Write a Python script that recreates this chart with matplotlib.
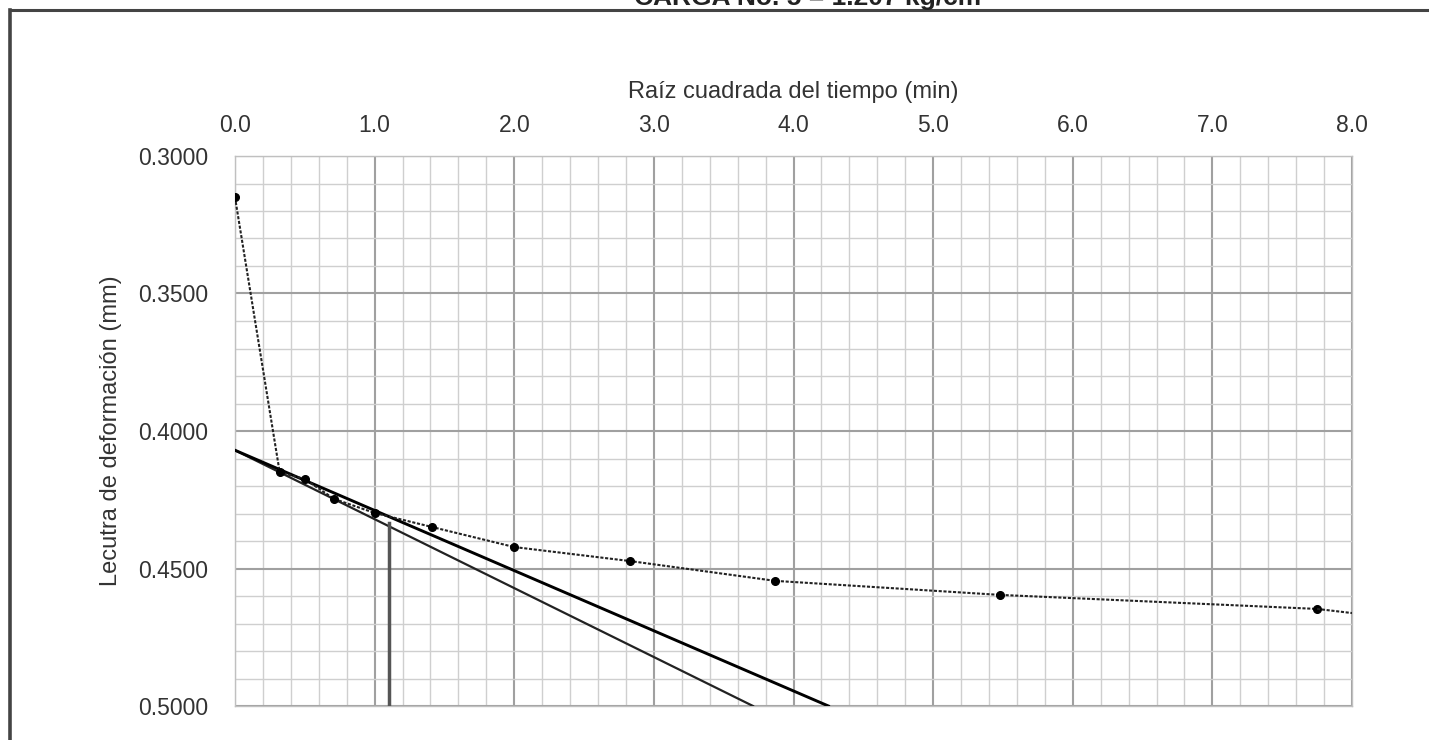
import matplotlib
matplotlib.use("Agg")
import matplotlib.pyplot as plt
from matplotlib.ticker import MultipleLocator, FormatStrFormatter
import matplotlib.lines as mlines

plt.rcParams['font.family'] = ['Liberation Sans', 'DejaVu Sans']

# Data: square root of time (min) vs deformation reading (mm)
sqrt_t = [0.0, 0.32, 0.50, 0.71, 1.00, 1.41, 2.00, 2.83, 3.87, 5.48, 7.75]
lectura = [0.3150, 0.4150, 0.4175, 0.4247, 0.4298, 0.4349, 0.4422, 0.4473, 0.4545, 0.4596, 0.4647]
# curve continues to the right edge of the chart
tail_x = [7.75, 8.0]
tail_y = [0.4647, 0.4662]

# Taylor construction lines
fit_x = [0.0, 3.71]
fit_y = [0.407, 0.500]
fit115_x = [0.0, 4.25]
fit115_y = [0.407, 0.500]
t90_x = [1.10, 1.10]
t90_y = [0.4335, 0.500]

xticks = [0.0, 1.0, 2.0, 3.0, 4.0, 5.0, 6.0, 7.0, 8.0]
yticks = [0.30, 0.35, 0.40, 0.45, 0.50]

fig = plt.figure(figsize=(14.29, 7.40), dpi=100)
ax = fig.add_axes([235/1429, 1-706/740, (1352-235)/1429, (706-156)/740])

ax.set_xlim(0, 8)
ax.set_ylim(0.5, 0.3)

ax.xaxis.set_major_locator(MultipleLocator(1.0))
ax.xaxis.set_minor_locator(MultipleLocator(0.2))
ax.yaxis.set_major_locator(MultipleLocator(0.05))
ax.yaxis.set_minor_locator(MultipleLocator(0.01))
ax.set_xticks(xticks)
ax.set_yticks(yticks)
ax.xaxis.set_major_formatter(FormatStrFormatter('%.1f'))
ax.yaxis.set_major_formatter(FormatStrFormatter('%.4f'))
ax.xaxis.tick_top()
ax.xaxis.set_label_position('top')
ax.tick_params(which='both', length=0)
ax.tick_params(axis='x', labelsize=16.5, labelcolor='#333333', pad=14)
ax.tick_params(axis='y', labelsize=16.5, labelcolor='#333333', pad=19)

ax.grid(which='major', color='#a0a0a0', linewidth=1.5)
ax.grid(which='minor', color='#cfcfcf', linewidth=1.0)
ax.set_axisbelow(True)
for s in ax.spines.values():
    s.set_color('#c0c0c0')
    s.set_linewidth(1.0)

ax.set_xlabel('Raíz cuadrada del tiempo (min)', fontsize=17, color='#333333', labelpad=11)
ax.set_ylabel('Lecutra de deformación (mm)', fontsize=17, color='#333333', labelpad=12)

# data curve
ax.plot(sqrt_t, lectura, linestyle=(0, (1.5, 0.8)), color='#222222', linewidth=1.5,
        marker='o', markersize=5.5, markerfacecolor='black', markeredgecolor='black', zorder=5)
ax.plot(tail_x, tail_y, linestyle=(0, (1.5, 0.8)), color='#222222', linewidth=1.5, zorder=5)

# construction lines
ax.plot(fit_x, fit_y, color='#222222', linewidth=1.6, zorder=4)
ax.plot(fit115_x, fit115_y, color='black', linewidth=2.1, zorder=4)
ax.plot(t90_x, t90_y, color='#555555', linewidth=2.5, zorder=4)

# frame lines of the page
fig.add_artist(mlines.Line2D([10/1429, 1.0], [1-10/740, 1-10/740], color='#444444', linewidth=2.2))
fig.add_artist(mlines.Line2D([10/1429, 10/1429], [0, 1-10/740], color='#444444', linewidth=2.6))

# cropped title at very top (partly outside the picture, as in the source)
fig.text(812/1429, 1-5/740, 'CARGA No. 5 = 1.207 kg/cm²', ha='center', va='baseline',
         fontsize=19, fontweight='bold', color='#222222')

fig.savefig('out.png', dpi=100)
